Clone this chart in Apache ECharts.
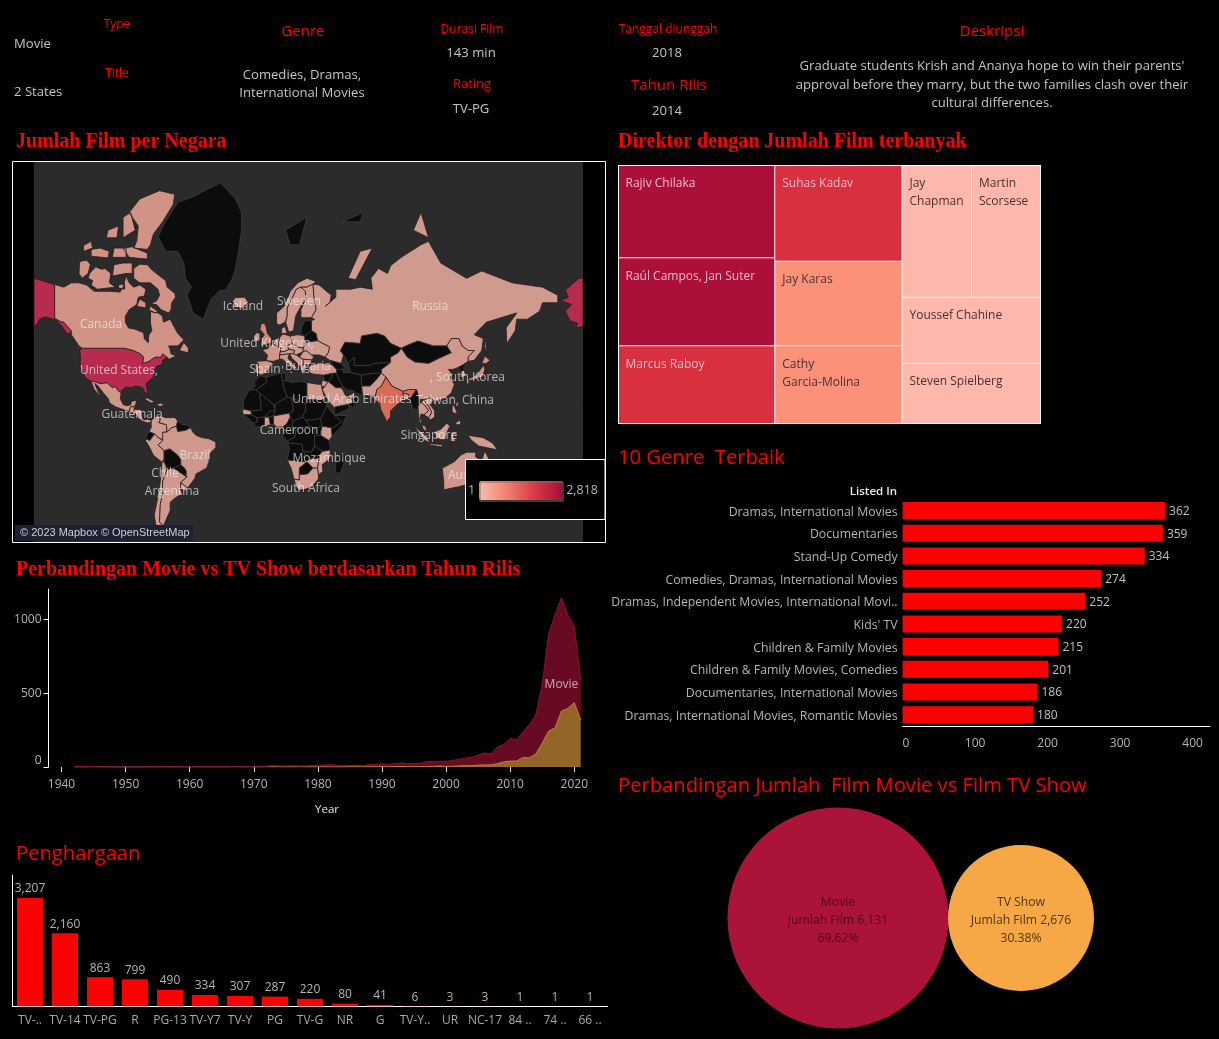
<!DOCTYPE html>
<html><head><meta charset="utf-8">
<style>html,body{margin:0;padding:0;background:#000}#c{width:1219px;height:1039px}</style>
<script src="https://cdn.jsdelivr.net/npm/echarts@6/dist/echarts.min.js"></script>
</head><body><div id="c"></div>
<script>
// ---------- DATA ----------
const ratingNames = ['TV-..','TV-14','TV-PG','R','PG-13','TV-Y7','TV-Y','PG','TV-G','NR','G','TV-Y..','UR','NC-17','84 ..','74 ..','66 ..'];
const ratingCounts = [3207,2160,863,799,490,334,307,287,220,80,41,6,3,3,1,1,1];
const genreNames = ['Dramas, International Movies','Documentaries','Stand-Up Comedy','Comedies, Dramas, International Movies','Dramas, Independent Movies, International Movi..',"Kids' TV",'Children & Family Movies','Children & Family Movies, Comedies','Documentaries, International Movies','Dramas, International Movies, Romantic Movies'];
const genreCounts = [362,359,334,274,252,220,215,201,186,180];
const areaYears = [];
for (let y = 1940; y <= 2021; y++) areaYears.push(String(y));
const movieByYear = ['-','-',2,3,3,3,1,1,0,0,0,0, 0,0,2,3,2,0,3,1,4,1, 3,2,2,2,1,4,3,2,2,5, 4,10,6,7,9,6,7,11,11,12, 17,11,12,9,11,8,16,15,19,17, 20,24,20,23,21,34,32,32,33,40, 44,51,55,67,82,74,113,118,154,145, 173,225,264,398,658,767,767,633,517,277];
const tvByYear = ['-','-',0,0,0,1,1,0,0,0,0,0, 0,0,0,0,0,0,0,0,0,0, 0,0,0,0,0,1,0,0,0,0, 1,0,1,0,0,1,0,0,0,1, 0,0,0,1,2,1,2,1,3,1, 3,4,2,2,3,4,4,7,4,5, 7,10,9,13,14,14,23,34,40,40, 64,63,88,162,244,265,379,397,436,315];
const directorColors = {top:'#ac1038', high:'#d93040', mid:'#fc917a', low:'#ffb8ab'};
const typeNames = ['Movie','TV Show'];
const typeCounts = [6131,2676];
const typeShares = ['69.62%','30.38%'];
const typeColors = ['#ab1338','#f5a845'];

const countryFilms = {USA:2818,India:972,UK:419,Japan:245,SouthKorea:199,Canada:181,Spain:145,France:124,Mexico:110,Egypt:106,Turkey:105,Nigeria:95,Australia:87,Taiwan:81,Indonesia:79,Brazil:77,Philippines:75,China:100,Germany:90,Italy:67,Thailand:65,Argentina:56,Russia:27,Poland:30,Sweden:30,Norway:20,Finland:11,Denmark:30,Ireland:26,Netherlands:30,CentralEurope:24,Hungary:9,Balkans:10,Romania:12,Bulgaria:9,Greece:10,Ukraine:8,Portugal:6,Iceland:9,Pakistan:24,Bangladesh:4,Vietnam:7,IndoChina:3,Malaysia:26,Borneo:10,Sumatra:30,Java:30,Sulawesi:20,NewGuinea:4,Luzon:40,Mindanao:30,Hainan:30,Sakhalin:15,Saudi:12,UAE:30,Levant:20,Colombia:25,Venezuela:5,Peru:10,Chile:20,Uruguay:10,Guatemala:2,CentralAmerica:3,Cuba:2,Hispaniola:2,Senegal:4,Ghana:5,Kenya:6,Namibia:2,SouthAfrica:20,Zimbabwe:3,Mozambique:2,NovayaZemlya:27,Tasmania:87};

const countryRings = {
USA:[[-124.7,48.4,-123,49,-95,49,-89,48,-84.5,46.5,-82.5,45,-83,42,-79,43,-75,45,-71,45,-70,46.5,-67,45,-70,43.5,-70,41.7,-74,40.5,-75.5,38,-76,35,-81,31.5,-80,27,-80.5,25.2,-82,27,-83,29,-85,29.7,-89,30,-90,29,-94,29.5,-97,27.5,-97.3,26,-99.5,27.5,-101,29.7,-103,29,-106.5,31.8,-111,31.3,-114.8,32.5,-117,32.5,-120.5,34.5,-122.5,37.5,-124.3,40.4,-124,46],
 [-154.6,71,-141,69.6,-141,60.3,-137,59.2,-135,59,-130,56,-130.5,55,-133,55,-136,57.5,-140,59.7,-147,60.8,-151,60,-152,58.8,-154.6,57.5],
 [206.6,71,204,71,195,68.3,197,66.5,192,65.6,199,64.5,195,62.5,198,59.5,203,58.7,202,57,206.6,57.5],
 [204.8,20,206,19.2,206.2,20]],
Canada:[[-141,69.6,-135,69,-130,70,-125,70,-120,69.5,-115,68,-110,68,-105,68,-98,67.8,-96,69,-94,71.5,-92,70,-89,69,-85,69.5,-81,68.5,-82,66.8,-86,66.5,-87,64.5,-92,63,-94.5,61,-94.5,59,-92.5,57,-88,56.5,-82.5,55.2,-82,52.9,-79.5,51.3,-79,54.5,-77,56,-78,58.8,-78,62.4,-73,62,-70,61,-69.5,59,-65,60,-62,57,-60,55,-56,52.5,-60,50,-66,50,-65,48.5,-64.5,46.5,-61,45.5,-66,44,-67,45,-70,46.5,-71,45,-75,45,-79,43,-83,42,-82.5,45,-84.5,46.5,-89,48,-95,49,-123,49,-125,50,-130,54.5,-130,56,-135,59,-137,59.2,-141,60.3],
 [-61.5,66.5,-64,65,-64.5,63,-66,62,-71,63,-74,64.5,-78,64.5,-74,65.5,-72,67,-73,68.5,-78,70,-85,70,-89,71,-89,73,-85,73.8,-80,73.7,-77,72.7,-72,71.5,-68,70.5,-67,69,-62,67.5],
 [-117,69.5,-113,68.5,-106,68.8,-101,69,-105,70,-104,72,-108,73,-110,72.8,-114,73.3,-118,72,-119,71,-116,70.5],
 [-125,72,-123,71,-119,72,-117.5,73.8,-120,74.5,-124.5,74.3],
 [-89,76.5,-80,76.3,-78,77,-76,78.5,-70,80,-63,81.8,-62,82.7,-72,83,-85,82.3,-92,81,-86,79.5,-87,77.5],
 [-92,75,-80,74.7,-80,75.7,-90,76.7,-96,76.5],[-96,78,-88,79,-91,81,-96,80.5],
 [-117,75.2,-106,74.9,-105,76,-111,76.5,-117,76.3],[-103,75,-94,75,-94,76.5,-102,76.5],
 [-103,71.5,-94,72,-90,72,-90,74,-96,74,-102,73.7],[-99,68.8,-95,68.5,-95,69.8,-99,69.5],
 [-122,76,-116,76.5,-117,77.5,-122,76.9],[-107,78,-100,78,-99,79.5,-106,79],
 [-87,64,-81,63.5,-81,65,-85,66],[-59,48,-53,47,-53,49,-56,51.5],[-128,50.7,-123.5,48.4,-125,48.8],[-79,63,-75,62,-73,62.5,-78,64]],
Greenland:[[-73,78.2,-68,80,-60,82,-50,82.5,-32,83.6,-22,82.3,-18,81,-18,79,-20,76,-22,73,-24,71,-28,68.5,-33,68,-38,66,-41,63,-43,60,-46,60.8,-50,62,-52,65,-54,67,-51,69,-55,71,-56,74,-60,76,-68,76]],
Iceland:[[-24,65.5,-22,66.4,-16,66.5,-13.5,65,-18,63.4,-22.5,63.9]],
Mexico:[[-117,32.5,-114.8,32.5,-111,31.3,-106.5,31.8,-103,29,-101,29.7,-99.5,27.5,-97.3,26,-97.8,22.5,-96,19,-94,18.2,-91,18.7,-90.5,21,-87,21.5,-88,18,-89,17.8,-91,17.5,-92,14.6,-96,15.8,-101,17.5,-105,20,-105.7,22.5,-109,26,-112.5,30,-114.7,31.5,-112.5,27,-110,23,-112,25,-115,28]],
Guatemala:[[-92,14.6,-91,17.5,-89,17.8,-88.5,15.8,-90,13.8]],
CentralAmerica:[[-89,17.8,-88,18,-88.5,15.8,-84,15.8,-83.5,11,-82.5,9.2,-79.5,9.6,-77.5,8.7,-78,7.3,-80.5,7.3,-83,8.2,-85.8,10,-87.5,13,-90,13.8,-88.5,15.8]],
Cuba:[[-85,22,-80,23,-75,20.5,-77.5,19.9,-82,22.4]],
Hispaniola:[[-74.4,18.5,-71.5,19.9,-68.5,18.6,-71.6,17.8]],
Colombia:[[-77.5,8.7,-75,11,-72,12,-71.5,9,-72.5,7.4,-67.5,6,-67,1.2,-70,1,-69.5,-4.2,-73,-2.3,-75.3,-0.1,-79,1.5,-77.5,4,-77.5,7]],
Venezuela:[[-72,12,-68,10.6,-62,10.7,-60,8.5,-61,5,-64,4,-67,1.2,-67.5,6,-72.5,7.4,-71.5,9]],
Guianas:[[-61,5,-60,8.5,-57,6,-54,5.8,-51.5,4,-55,2.3,-60,1.5]],
Ecuador:[[-80.9,-2.2,-79,1.5,-75.3,-0.1,-78.5,-4.5,-80.3,-3.4]],
Peru:[[-81.3,-4.5,-80.3,-3.4,-78.5,-4.5,-75.3,-0.1,-73,-2.3,-69.9,-4.3,-73,-7.3,-70.6,-9.5,-69,-11,-69,-16.3,-70.4,-18.3,-76,-14,-79,-8]],
Bolivia:[[-69,-11,-65.3,-9.8,-60.5,-13.5,-58,-16.3,-58,-20,-62.7,-22,-67,-22.8,-69,-18,-69,-16.3]],
Paraguay:[[-58,-20,-62.7,-22,-60,-24,-57.5,-25.2,-54.6,-27,-54.3,-24,-55.5,-22]],
Chile:[[-70.4,-18.3,-69,-18,-67,-22.8,-70,-30,-70,-37,-71.5,-42,-72,-50,-68.5,-52.4,-68.6,-54.9,-74,-53,-75.5,-47,-73.5,-40,-71.5,-30]],
Argentina:[[-67,-22.8,-62.7,-22,-60,-24,-57.5,-25.2,-54.6,-27,-53.8,-27,-58,-30.5,-58.4,-34,-57,-36.5,-62,-39,-65,-41,-65,-45,-69,-51,-68.5,-52.4,-72,-50,-71.5,-42,-70,-37,-70,-30],[-68.6,-54.9,-68.5,-52.6,-65.5,-55]],
Uruguay:[[-58.4,-34,-58,-30.5,-53.5,-33.5,-55,-35]],
Brazil:[[-69.9,-4.3,-69.5,-4.2,-70,1,-67,1.2,-64,4,-61,5,-60,1.5,-55,2.3,-51.5,4,-50,1,-48,-1,-44,-2.5,-40,-3,-35,-5.3,-35,-9,-39,-13,-39.5,-18,-41,-22,-48,-25.5,-48.7,-28,-53.5,-33.5,-58,-30.5,-53.8,-27,-54.6,-27,-54.3,-24,-55.5,-22,-58,-20,-58,-16.3,-60.5,-13.5,-65.3,-9.8,-69,-11,-70.6,-9.5,-73,-7.3]],
Norway:[[5,58.5,7,58,10.5,59,12,61,12,63.5,15,66,18,68.5,21,69,25,69,29,69.7,31,70.3,25,71,19,70,14,68,10,64,5,62]],
Sweden:[[11,59,13,55.5,16,56,17,59,17.5,61,21,64,24,65.8,24,68,21,69,18,68.5,15,66,12,63.5,12,61]],
Finland:[[21,60.5,28,60.5,31,63,29.5,67,29,69.7,25,69,21,69,24,68,24,65.8,21,63]],
Svalbard:[[11,79,25,80.5,20,77,14,77]],
Denmark:[[8,55,8.5,57,10.5,57.5,12,55]],
UK:[[-5.5,50,1.5,51.2,1.7,53,-1,55,-2,57.6,-3,58.6,-5,58.6,-6,56.5,-3,54.5,-4.8,53,-5,51.7]],
Ireland:[[-10,52,-6,52,-6,55,-8,55.3,-10,54]],
France:[[-4.5,48.4,-1,48.8,2.5,51,6,49.6,8,49,7.5,47.5,7,46,7,44,3,43,-1.7,43.3,-1,46]],
Spain:[[-9,43,-1.7,43.3,3,42.3,0,39.5,-2,37,-5.5,36,-7,37.2,-7,42]],
Portugal:[[-9,42,-7,42,-7,37.2,-9,37]],
Netherlands:[[2.5,51,4.5,53,7,53.3,6,49.6]],
Germany:[[6,49.6,7,53.3,9,54.8,14,54,15,51,12,50,13.5,48.5,10,47.5,7.5,47.5,8,49]],
CentralEurope:[[7.5,47.5,10,47.5,13.5,48.5,17,48,16,46.5,13.5,46.5,7,46]],
Italy:[[7,44,7,46,13.5,46.5,12.5,44.5,16,41.5,18.5,40,16.5,39,16,38,15.5,40,12,42,9,44],[12.5,38,15.5,38,15,36.7],[8.3,41,9.7,41,9.5,39,8.5,39]],
Poland:[[14,54,19,54.5,23.5,54,24,50.5,22.5,49,19,49.5,15,51]],
Hungary:[[12,50,15,51,19,49.5,22.5,49,22.5,47.5,18,46,16,46.5,17,48,13.5,48.5]],
Balkans:[[13.5,46.5,16,46.5,18,46,20,45,22.5,44,22.5,41.3,20.5,40,19.5,41.5,15,44.5]],
Romania:[[20,45,22.5,47.5,24.5,48,28,46,29.5,45,28,43.7,22.5,44]],
Bulgaria:[[22.5,44,28,43.7,28,42,26,41.3,22.5,41.3]],
Greece:[[20.5,40,22.5,41.3,26,41.3,24,40,23,38,23,36.5,21.5,37]],
Ukraine:[[22.5,49,24,50.5,24,51.5,32,52.2,40,49.5,39,47,37,45,33,46,30,46,28,46,24.5,48,22.5,47.5]],
Belarus:[[24,51.5,23.5,54,28,56,31,55,32,52.2]],
Baltics:[[21,55,21.5,57.5,24,59.5,28,59.5,28,56,23.5,54]],
Russia:[[28,59.5,30,60,28,60.5,31,63,29.5,67,29,69.7,33,69.5,41,67,40,65,37,64,44,66.5,44,68.5,54,68.5,60,69,68,68.5,67,71,72,73,78,72,80,73.5,87,75,100,77,105,77.5,113,74,130,71,140,72.5,160,70,170,69.5,180,69,190,67,190,65,180,65,178,62.5,170,60,163,60,162,56,156.5,51,156,57,163,62,156,61,143,59,135,54.5,141,53,140,48,135,43.5,131,43,131,45,135,48,131,48,127,50,125,53,120,53,117,50,108,50,98,52,92,50.5,87,49,80,51,76,54,71,55,61,54,60,51,50,51.5,47,48,49,46,47.5,42,40,43.5,37,45,39,47,40,49.5,32,52.2,31,55,28,56]],
NovayaZemlya:[[52,71,57,70.7,68,76.5,60,76],[95,79,105,78,100,81]],
FranzJosef:[[48,80,62,81,60,80]],
Sakhalin:[[142,54,143,50,142.5,46,142,50]],
Kazakhstan:[[47,48,50,51.5,60,51,61,54,71,55,76,54,80,51,87,49,85,47,80,45,80,42.5,70,42,66,41,56,41,56,45,52,42,50,45,49,46]],
Mongolia:[[87,49,92,50.5,98,52,108,50,117,50,120,47,112,44.5,105,42,96,42.7,91,45]],
CentralAsia:[[52,42,56,45,56,41,66,41,70,42,80,42.5,74,39,74,37,68,37,61,36,54,37.3,53,40]],
Afghanistan:[[61,36,68,37,74,37,70,33,66.5,30,61,30,60.5,33]],
Iran:[[44.5,39,48,39,49,37.5,54,37.3,61,36,60.5,33,61,30,61.5,25,57,25.5,56,27,51,28,48.5,30,46,33.5,44.5,37]],
Pakistan:[[61,30,66.5,30,70,33,74,37,77,35,74,30,71,28,70,24,67,24,61.5,25]],
India:[[77,35,79,32.5,81,30,88,27,92,28,97,28,94,24,92,22.5,92,25,88,26,89,22,85,19.5,80,15,80,11,77.5,8,73.5,16,72.5,21,70,21,68.5,23.5,70,24,71,28,74,30]],
Bangladesh:[[88,26,92,25,92,22,89,22]],
China:[[74,39,80,42.5,80,45,85,47,87,49,91,45,96,42.7,105,42,112,44.5,120,47,117,50,120,53,125,53,127,50,131,48,135,48,131,45,131,43,128,41.5,124.5,40,121,39,118,39,120,37,122,37,119,35,122,31,120,26,116,23,110,21,108,21.6,106,23,102,22,99,22,98,25,97,28,92,28,88,27,81,30,79,32.5,77,35,74,37]],
Hainan:[[109,19,111,20,110,18.3]],
Taiwan:[[120,23,121.5,25,121,22]],
Myanmar:[[92,22.5,94,24,97,28,98,25,99,22,100,20.5,98,18,98.5,12,97.5,16,94.5,16,94,19]],
Thailand:[[98,18,100,20.5,103,18,105,15,102,12.5,100,13,99.5,10,101,6.5,99,8,98.5,12]],
Vietnam:[[102,22,106,23,108,21.6,106,19,109,15,109,11,106,9,105,10.5,107,14,105,18,103,20]],
IndoChina:[[102,22,103,20,105,18,107,14,105,10.5,102,12.5,105,15,103,18,100,20.5]],
Malaysia:[[100.5,6,103,5,104,1.5,101.5,3]],
Borneo:[[109,1.5,113,3,117,7,119,5,117,1,116,-4,110,-3]],
Sumatra:[[95,5.5,104,-2,106,-6,102,-4]],
Java:[[105.5,-6.5,114,-7,114,-8.5,106,-7.5]],
Sulawesi:[[119.5,-5,120,1,125,1.5,121,-1,123,-5]],
NewGuinea:[[131,-1,141,-2.5,147,-6,150.5,-10.5,143,-9,138,-8,133,-4]],
Luzon:[[120.5,18.5,122,18,124,13,120.5,14]],
Mindanao:[[122,7,126,9,126,6,124,6]],
Japan:[[131,34,136,35.5,140,40,141.5,41,142,39,140.5,35,136,34,132,33],[140,42,142,45.5,145.5,43.5,143,42],[130,33.5,132,33,131,31,130,31.5]],
SouthKorea:[[126,34.5,126.5,38,128.5,38.5,129.5,35.5]],
NorthKorea:[[124.5,40,128,41.5,130.5,42.5,128,40,128.5,38.5,126.5,38]],
Australia:[[114,-22,122,-18,126,-14,130,-12,136,-12,136,-15,140,-17.5,142,-11,146,-19,153,-26,153,-31,150,-37,146,-39,140,-38,136,-35,131,-31.5,124,-33,115,-34.5,115,-30]],
Tasmania:[[145,-41,148,-41,147,-43.5]],
Turkey:[[26,40,28,41.5,35,42,41.5,41.5,44.5,39,44.5,37,42,37,36,36,30,36.5,27,37]],
Caucasus:[[40,43.5,47.5,42,49.5,40,48,39,44.5,39,41.5,41.5]],
Iraq:[[44.5,37,46,33.5,48.5,30,47,29,44,29,39,32.5,41,34.5,42,37]],
Syria:[[36,36,42,37,41,34.5,39,32.5,36,33]],
Levant:[[34.5,31,36,36,36,33,39,32.5,37,30,35,29.5]],
Saudi:[[37,30,39,32.5,44,29,47,29,48.5,28,50,25,51,24,55,22,55,20,52,19,44,17.5,43,17,42.5,16.5,39,21,35,28]],
UAE:[[51.5,24,56,26,56,24.5,55,22]],
Oman:[[55,22,56,24.5,59.8,22.5,55,17,52,19,55,20]],
Yemen:[[43,17,44,17.5,52,19,53,16.5,45,13,43,13]],
Morocco:[[-13,27.7,-9,29.8,-9.7,32,-6,35.7,-2,35,-1.5,32,-5,30,-8.7,27.7]],
Algeria:[[-8.7,27.7,-5,30,-1.5,32,-2,35,8,37,9,33,9.5,30,12,23.5,4,19,3,19,-5,25]],
Tunisia:[[8,37,11,37,11,33,9,33]],
Libya:[[9.5,30,9,33,11,33,15,32,20,32.5,25,32,25,20,24,19.5,15,23,12,23.5]],
Egypt:[[25,32,32,31,34.5,31,35,28,37,22,25,22]],
Mauritania:[[-17,21,-13,27.7,-8.7,27.7,-5,25,-6,25,-5,15.5,-12,15,-16.5,16]],
Mali:[[-12,15,-5,15.5,-6,25,-5,25,3,19,4,15,1,15,-3,11,-8,10.5,-11.5,12.5]],
Senegal:[[-17.5,14.7,-16.5,16,-12,15,-11.5,12.5,-16.7,12.5]],
Guinea:[[-16.7,12.5,-11.5,12.5,-8,10.5,-8,7.5,-11,7,-13,9.5]],
Ivory:[[-11,7,-8,7.5,-8,10.5,-3,11,-3,5,-8,4.5]],
Ghana:[[-3,11,0,11,1,6,-3,5]],
Burkina:[[-3,11,0,11,3,11.7,4,15,1,15]],
Niger:[[4,19,12,23.5,15,23,16,15,13.5,13.5,3,11.7,4,15]],
Nigeria:[[3,11.7,13.5,13.5,14,11,12,7,9,4.5,5,4.5,3,6.4]],
Benin:[[0,11,3,11.7,3,6.4,1,6]],
Chad:[[15,23,24,19.5,24,15,22,11,15.5,8,14,11,13.5,13.5,16,15]],
Sudan:[[24,22,37,22,38,18,36,14,34,10,28,9,24,9,22,11,24,15,24,19.5,25,20]],
SouthSudan:[[24,9,28,9,34,10,35,5,30,3.5,27,5]],
CAR:[[15.5,8,22,11,24,9,27,5,18,3.5,15,4]],
Cameroon:[[9,4.5,12,7,14,11,15.5,8,15,4,16,2,10,2.3]],
Ethiopia:[[36,14,38,18,43,12,48,8,42,4,35,5,34,10]],
Somalia:[[43,12,51,12,48,5,41.5,-1.5,41,4,42,4,48,8]],
Kenya:[[35,5,41,4,41.5,-1.5,39.5,-4.5,34,-1,34,1.5]],
Uganda:[[30,3.5,35,5,34,1.5,34,-1,30,-1]],
Tanzania:[[30,-1,34,-1,39.5,-4.5,40.5,-10.5,35,-11.5,30,-8]],
Gabon:[[10,2.3,16,2,18,3.5,17,-2,12,-5,9,-1]],
DRC:[[18,3.5,27,5,30,3.5,30,-1,30,-8,28,-12,22,-11,22,-7,13,-6,12,-5,17,-2]],
Angola:[[12,-5,13,-6,22,-7,22,-11,24,-13,22,-16,22,-18,12,-17,13.5,-10]],
Zambia:[[22,-11,28,-12,30,-8,35,-11.5,33,-14,33,-16,28,-16,25,-18,22,-18,22,-16,24,-13]],
Namibia:[[12,-17,22,-18,25,-18,20,-22,20,-29,16.5,-28.6,14.5,-22]],
Botswana:[[20,-22,25,-18,29,-22,25.5,-25.5,20,-26]],
Zimbabwe:[[25,-18,28,-16,33,-16,32,-22,29,-22]],
Mozambique:[[40.5,-10.5,35,-11.5,33,-14,33,-16,32,-22,32.5,-26,35.5,-24,35,-20,40,-16]],
SouthAfrica:[[16.5,-28.6,20,-29,20,-26,25.5,-25.5,29,-22,32,-22,32.5,-26,32.5,-28.5,28,-33,25,-34,20,-34.8,18,-33]],
Madagascar:[[49.5,-12,50.5,-16,47,-25,44,-25,43.5,-21,44.5,-16]]
};
const mapLabelNames = ['Canada','Russia','Iceland','Sweden','United Kingdom,','Spain','Bulgaria','United States,','Guatemala',', South Korea','Taiwan, China','United Arab Emirates','Cameroon','Singapore','Mozambique','Brazil','Chile','Argentina','South Africa','Australia'];
const mapLabelLon = [-110.5,106,-17.1,19.7,-1.3,-2.6,25.7,-98.7,-90.1,130.5,122.4,54.6,13.2,105.3,39.5,-48.7,-68.4,-63.8,24.3,134];
const mapLabelLat = [58.8,64.4,64.4,65.7,51.7,39.8,41.2,39.3,13.7,35.6,22.4,23,3.3,0,-14.9,-13,-24.2,-34.5,-32.9,-25.6];

// ---------- TEXT ----------
const FONT = '"Open Sans"';
const RED = '#ff0000', GREY = '#c4c4c4';
const serif = 'bold 20px "Liberation Serif"';
const body = `13.1px ${FONT}`;
const pageTexts = [
 ['Type',117,24,RED,`12px ${FONT}`,'center'],['Movie',14,43,GREY,body,'left'],
 ['Title',117,73,RED,`12px ${FONT}`,'center'],['2 States',14,91,GREY,body,'left'],
 ['Genre',303,31,RED,`15px ${FONT}`,'center'],['Comedies, Dramas,',302,74,GREY,body,'center'],['International Movies',302,92,GREY,body,'center'],
 ['Durasi Film',472,29,RED,`12px ${FONT}`,'center'],['143 min',471,52,GREY,body,'center'],
 ['Rating',472,83,RED,`13px ${FONT}`,'center'],['TV-PG',471,108,GREY,body,'center'],
 ['Tanggal diunggah',668,29,RED,`12px ${FONT}`,'center'],['2018',667,52,GREY,body,'center'],
 ['Tahun Rilis',669,85,RED,`15px ${FONT}`,'center'],['2014',667,110,GREY,body,'center'],
 ['Deskripsi',992,31,RED,`15px ${FONT}`,'center'],
 ["Graduate students Krish and Ananya hope to win their parents'",992,65,GREY,body,'center'],
 ['approval before they marry, but the two families clash over their',992,84,GREY,body,'center'],
 ['cultural differences.',992,102,GREY,body,'center'],
 ['Jumlah Film per Negara',16,142,RED,serif,'left'],
 ['Direktor dengan Jumlah Film terbanyak',618,142,RED,serif,'left'],
 ['Perbandingan Movie vs TV Show berdasarkan Tahun Rilis',16,570,RED,serif,'left'],
 ['10 Genre  Terbaik',618,457,RED,`20.2px ${FONT}`,'left'],
 ['Perbandingan Jumlah  Film Movie vs Film TV Show',618,785,RED,`20.2px ${FONT}`,'left'],
 ['Penghargaan',16,853,RED,`20.2px ${FONT}`,'left'],
 ['Listed In',897,491,'#e8e8e8',`600 11.5px ${FONT}`,'right'],
 ['Year',327,809,'#e0e0e0',`11.5px ${FONT}`,'center']
];

// ---------- MAP ----------
const geoFeatures = Object.keys(countryRings).map(name => ({
  type:'Feature', properties:{name},
  geometry:{type:'MultiPolygon', coordinates:countryRings[name].map(flat => {
    const ring = [];
    for (let i = 0; i < flat.length; i += 2) ring.push([flat[i], flat[i+1]]);
    ring.push(ring[0]);
    return [ring];
  })}
}));
echarts.registerMap('world', {type:'FeatureCollection', features:geoFeatures});
const mercator = {
  project: p => [p[0], -Math.log(Math.tan(Math.PI/4 + p[1]*Math.PI/360))*180/Math.PI],
  unproject: p => [p[0], (2*Math.atan(Math.exp(-p[1]*Math.PI/180)) - Math.PI/2)*180/Math.PI]
};
const mapBox = {left:34, top:162, width:549, height:380};
const mapBounds = [[-154.6,84.96],[206.6,-57.8]];

// ---------- TREEMAP ----------
const leaf = (name, value, tone, light) => ({
  name, value,
  itemStyle:{color:directorColors[tone], borderColor:'#fff', borderWidth:0.5},
  label:{color: light ? '#f0bccb' : '#4a3032'}
});
const directorTree = [
 {name:'L', children:[
  {name:'A', children:[
    {name:'A1', children:[leaf('Rajiv Chilaka',19,'top',true), leaf('Raúl Campos, Jan Suter',18,'top',true)]},
    leaf('Marcus Raboy',16,'high',true)]},
  {name:'B', children:[leaf('Suhas Kadav',16,'high',true), leaf('Jay Karas',14,'mid'), leaf('Cathy\nGarcia-Molina',13,'mid')]}
 ]},
 {name:'C', children:[
   leaf('Jay\nChapman',12,'low'), leaf('Martin\nScorsese',12,'low'),
   {name:'C2', children:[leaf('Youssef Chahine',12,'low'), leaf('Steven Spielberg',11,'low')]}
 ]}
];

const labelStyle = {color:'#b4b4b4', fontFamily:FONT, fontSize:12};
const option = {
 backgroundColor:'#000', animation:false,
 textStyle:{fontFamily:FONT},
 grid:[
  {left:61.5, top:589, width:519.2, height:178},
  {left:12.5, top:875, width:595, height:131.3},
  {left:902.6, top:499.2, width:307.4, height:226.8},
  {left:746.5, top:800, width:366, height:236}
 ],
 xAxis:[
  {gridIndex:0,type:'category',data:areaYears,boundaryGap:false,axisLine:{show:false},
   axisTick:{show:true,length:5,interval:9,lineStyle:{color:'#ddd'}},axisLabel:{...labelStyle,margin:12,interval:9}},
  {gridIndex:1,type:'category',data:ratingNames,axisLine:{lineStyle:{color:'#fff'}},axisTick:{length:4,lineStyle:{color:'#fff'}},
   axisLabel:{...labelStyle,color:'#a8a8a8',interval:0,margin:8}},
  {gridIndex:2,type:'value',min:0,max:424,interval:100,splitLine:{show:false},axisLine:{show:true,lineStyle:{color:'#fff'}},axisTick:{show:false},
   axisLabel:{...labelStyle,margin:12,showMaxLabel:false,alignMinLabel:'left'}},
  {gridIndex:3,type:'category',data:typeNames,show:false}
 ],
 yAxis:[
  {gridIndex:0,type:'value',min:0,max:1205,offset:13,splitLine:{show:false},
   axisLine:{show:true,lineStyle:{color:'#fff'}},
   axisTick:{show:true,length:5,lineStyle:{color:'#fff'},customValues:[0,500,1000]},
   axisLabel:{...labelStyle,margin:7,customValues:[0,500,1000],verticalAlignMinLabel:'bottom',formatter:v=>String(v)}},
  {gridIndex:1,type:'value',min:0,max:3888,splitLine:{show:false},axisLine:{show:true,lineStyle:{color:'#fff'}},axisTick:{show:false},axisLabel:{show:false}},
  {gridIndex:2,type:'category',inverse:true,data:genreNames,axisLine:{show:false},axisTick:{show:false},axisLabel:{...labelStyle,fontSize:12.3,margin:5,interval:0,verticalAlign:'top',lineHeight:3}},
  {gridIndex:3,type:'value',min:-1,max:1,show:false}
 ],
 geo:{map:'world',projection:mercator,boundingCoords:mapBounds,...mapBox,roam:false,silent:true,z:1,
  itemStyle:{areaColor:'transparent',borderColor:'transparent',borderWidth:0},label:{show:false},emphasis:{disabled:true}},
 visualMap:[
  {type:'continuous',show:false,seriesIndex:0,min:1,max:2818,inRange:{color:['#cf9c91','#d96b58','#c94a52','#b72b4e']}},
  {type:'continuous',seriesIndex:[],min:1,max:2818,orient:'horizontal',left:453,top:466,itemWidth:19,itemHeight:83,
   text:['2,818','1'],textGap:4,textStyle:{color:'#b4b4b4',fontFamily:FONT,fontSize:12.5},calculable:false,hoverLink:false,
   inRange:{color:['#fbbcae','#f0826f','#d93a47','#a60f3b']}}
 ],
 series:[
  {type:'map',map:'world',projection:mercator,boundingCoords:mapBounds,...mapBox,roam:false,silent:true,z:2,
   itemStyle:{areaColor:'#0c0c0c',borderColor:'#3c3c3c',borderWidth:0.8},label:{show:false},
   emphasis:{disabled:true},select:{disabled:true},
   data:Object.keys(countryFilms).map(name=>({name,value:countryFilms[name],itemStyle:{borderColor:'#2a1c1c',borderWidth:0.8}}))},
  {type:'scatter',coordinateSystem:'geo',geoIndex:0,symbolSize:1,silent:true,z:2,itemStyle:{color:'transparent'},
   label:{show:true,position:'inside',offset:[0,1.5],formatter:'{b}',color:'rgba(240,240,240,0.85)',fontFamily:FONT,fontSize:12},
   data:mapLabelNames.map((n,i)=>({name:n,value:[mapLabelLon[i],mapLabelLat[i]]}))},
  {name:'TV Show',type:'line',xAxisIndex:0,yAxisIndex:0,stack:'all',showSymbol:false,silent:true,
   lineStyle:{color:'#c0803a',width:1},areaStyle:{color:'#f5a845',opacity:0.6},data:tvByYear},
  {name:'Movie',type:'line',xAxisIndex:0,yAxisIndex:0,stack:'all',showSymbol:false,silent:true,
   lineStyle:{color:'#8a1232',width:1},areaStyle:{color:'#ab1338',opacity:0.6},data:movieByYear},
  {type:'scatter',xAxisIndex:0,yAxisIndex:0,symbolSize:1,silent:true,itemStyle:{color:'transparent'},z:5,
   label:{show:true,position:'inside',offset:[0,1],formatter:'Movie',color:'#e0c8cf',fontFamily:FONT,fontSize:12},
   data:[['2018',562]]},
  {type:'bar',xAxisIndex:1,yAxisIndex:1,barWidth:26,silent:true,itemStyle:{color:'#ff0000'},
   label:{show:true,position:'top',distance:3,color:'#b4b4b4',fontFamily:FONT,fontSize:12,formatter:p=>p.value.toLocaleString('en-US')},
   data:ratingCounts},
  {type:'bar',xAxisIndex:2,yAxisIndex:2,barWidth:17,silent:true,itemStyle:{color:'#ff0000'},
   label:{show:true,position:'right',distance:4,offset:[0,1],color:'#c0c0c0',fontFamily:FONT,fontSize:12},
   data:genreCounts},
  {type:'treemap',left:618,top:165,width:423,height:259,roam:false,nodeClick:false,silent:true,
   breadcrumb:{show:false},sort:false,squareRatio:1.17,visibleMin:0,childrenVisibleMin:0,
   label:{show:true,position:'insideTopLeft',fontFamily:FONT,fontSize:12,lineHeight:18,padding:[9,0,0,7]},
   upperLabel:{show:false},
   itemStyle:{borderWidth:0,gapWidth:0},
   data:directorTree},
  {type:'scatter',xAxisIndex:3,yAxisIndex:3,silent:true,clip:false,
   symbolSize:(v)=>Math.sqrt(v[2])*2.823,
   label:{show:true,position:'inside',offset:[0,3],lineHeight:18,fontFamily:FONT,fontSize:12.2,
    formatter:p=>`${p.name}\nJumlah Film ${p.value[2].toLocaleString('en-US')}\n${typeShares[p.dataIndex]}`},
   data:typeNames.map((n,i)=>({name:n,value:[n,0,typeCounts[i]],itemStyle:{color:typeColors[i],opacity:1},label:{color:i?'#4f3512':'#4a0a1e'}}))}
 ],
 graphic:[
  {type:'rect',shape:{x:34,y:162,width:549,height:380},style:{fill:'#2b2b2b'},z:0,silent:true},
  {type:'rect',shape:{x:12.5,y:161.5,width:593,height:381},style:{fill:'none',stroke:'#fff',lineWidth:1},z:0,silent:true},
  {type:'rect',shape:{x:465.5,y:459.5,width:139.5,height:60},style:{fill:'#000',stroke:'#fff',lineWidth:1},z:3,silent:true},
  {type:'rect',shape:{x:480,y:482,width:83,height:19},style:{fill:'none',stroke:'#8a6a6a',lineWidth:1},z:6,silent:true},
  {type:'rect',shape:{x:618.5,y:165.5,width:422,height:258},style:{fill:'none',stroke:'#fff',lineWidth:1},z:7,silent:true},
  {type:'rect',shape:{x:15,y:525,width:178,height:16},style:{fill:'#1e2133'},z:3,silent:true},
  {type:'text',style:{text:'© 2023 Mapbox © OpenStreetMap',x:20,y:533,fill:'#cfcfcf',font:'11px "Liberation Sans"',textVerticalAlign:'middle'},z:3,silent:true},
  ...pageTexts.map(t=>({type:'text',silent:true,z:7,style:{text:t[0],x:t[1],y:t[4]===serif?t[2]:t[2]+1,fill:t[3],font:t[4],textAlign:t[5],textVerticalAlign:'middle'}}))
 ]
};
const chart = echarts.init(document.getElementById('c'),null,{renderer:'canvas'});
chart.setOption(option);
</script></body></html>
